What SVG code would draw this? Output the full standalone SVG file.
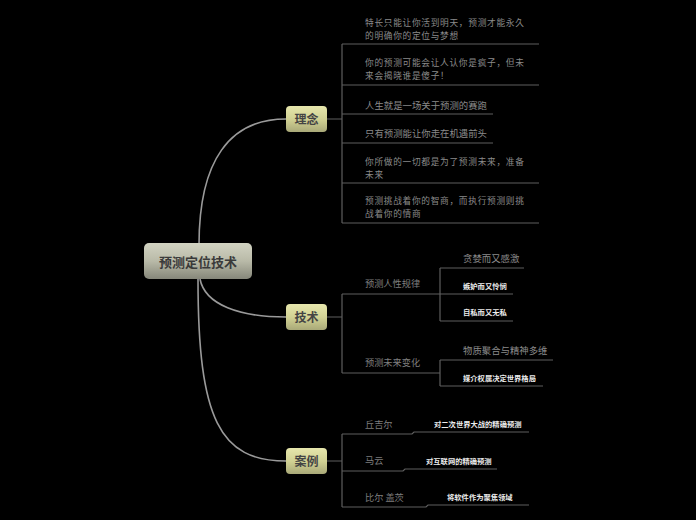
<svg xmlns="http://www.w3.org/2000/svg" width="696" height="520" viewBox="0 0 696 520">
<defs>
<linearGradient id="gRoot" x1="0" y1="0" x2="0" y2="1">
<stop offset="0" stop-color="#d2d3c2"/>
<stop offset="0.5" stop-color="#b9baa8"/>
<stop offset="1" stop-color="#86877a"/>
</linearGradient>
<linearGradient id="gBranch" x1="0" y1="0" x2="0" y2="1">
<stop offset="0" stop-color="#e6e6ac"/>
<stop offset="0.5" stop-color="#d2d294"/>
<stop offset="1" stop-color="#a9a978"/>
</linearGradient>
<style>
text{font-family:"Noto Sans CJK SC","Liberation Sans",sans-serif}
.curve{fill:none;stroke:#9a9a9a;stroke-width:1.6}
.ln{fill:none;stroke:#5e5e5e;stroke-width:1.2}
.root{font-size:13px;font-weight:bold;fill:#3a3a3a}
.br{font-size:12px;font-weight:bold;fill:#444}
.t{font-size:9.4px;fill:#8a8a8a}
.t2{font-size:8.7px;letter-spacing:0.7px;fill:#8a8a8a}
.s{font-size:9.2px;fill:#7e7e7e}
.w{font-size:7.3px;fill:#ececec;font-weight:bold}
</style>
</defs>
<rect width="696" height="520" fill="#000"/>
<g id="connectors">
<path class="curve" d="M199 245 C199 160 230 119 286 119"/>
<path class="curve" d="M200 279 C205 305 240 317 286 317"/>
<path class="curve" d="M198 279 C198 420 220 461 286 461"/>
<path class="ln" d="M327 119 H342 M342 44 V223 M342 44 H539 M342 85 H539 M342 114 H493 M342 143 H493 M342 183 H539 M342 223 H539"/>
<path class="ln" d="M327 317 H342 M342 294 V373 M342 294 H440 M440 268 V321 M440 268 H524 M440 294 H513 M440 321 H513 M342 373 H440 M440 360 V386 M440 360 H553 M440 386 H543"/>
<path class="ln" d="M327 461 H342 M342 434 V507 M342 434 H412 L414 432 H529 M342 471 H403 L405 469 H497 M342 507 H426 L428 505 H529"/>
</g>
<g id="root">
<rect x="144" y="243" width="108" height="36" rx="5" fill="url(#gRoot)"/>
<text class="root" x="198" y="267" text-anchor="middle">预测定位技术</text>
</g>
<g id="n-linian">
<rect x="286" y="106" width="41" height="26" rx="4" fill="url(#gBranch)"/>
<text class="br" x="306.5" y="123.5" text-anchor="middle">理念</text>
</g>
<g id="n-jishu">
<rect x="286" y="304" width="41" height="26" rx="4" fill="url(#gBranch)"/>
<text class="br" x="306.5" y="321.5" text-anchor="middle">技术</text>
</g>
<g id="n-anli">
<rect x="286" y="448" width="41" height="26" rx="4" fill="url(#gBranch)"/>
<text class="br" x="306.5" y="465.5" text-anchor="middle">案例</text>
</g>
<g id="l1"><text class="t2" x="365" y="26">特长只能让你活到明天，预测才能永久</text><text class="t2" x="365" y="38.5">的明确你的定位与梦想</text></g>
<g id="l2"><text class="t2" x="365" y="66">你的预测可能会让人认你是疯子，但未</text><text class="t2" x="365" y="78.5">来会揭晓谁是傻子！</text></g>
<g id="l3"><text class="t" x="365" y="109">人生就是一场关于预测的赛跑</text></g>
<g id="l4"><text class="t" x="365" y="137">只有预测能让你走在机遇前头</text></g>
<g id="l5"><text class="t2" x="365" y="165">你所做的一切都是为了预测未来，准备</text><text class="t2" x="365" y="177.5">未来</text></g>
<g id="l6"><text class="t2" x="365" y="204">预测挑战着你的智商，而执行预测则挑</text><text class="t2" x="365" y="217">战着你的情商</text></g>
<g id="j1"><text class="s" x="365" y="287">预测人性规律</text></g>
<g id="j1a"><text class="t" x="463" y="262">贪婪而又感激</text></g>
<g id="j1b"><text class="w" x="463" y="289">嫉妒而又怜悯</text></g>
<g id="j1c"><text class="w" x="463" y="315">自私而又无私</text></g>
<g id="j2"><text class="s" x="365" y="366">预测未来变化</text></g>
<g id="j2a"><text class="t" x="463" y="354">物质聚合与精神多维</text></g>
<g id="j2b"><text class="w" x="463" y="381">媒介权属决定世界格局</text></g>
<g id="a1"><text class="s" x="365" y="428">丘吉尔</text></g>
<g id="a1a"><text class="w" x="434" y="427">对二次世界大战的精确预测</text></g>
<g id="a2"><text class="s" x="365" y="464">马云</text></g>
<g id="a2a"><text class="w" x="426" y="464">对互联网的精确预测</text></g>
<g id="a3"><text class="s" x="365" y="501">比尔 盖茨</text></g>
<g id="a3a"><text class="w" x="447" y="500">将软件作为聚焦领域</text></g>
</svg>
